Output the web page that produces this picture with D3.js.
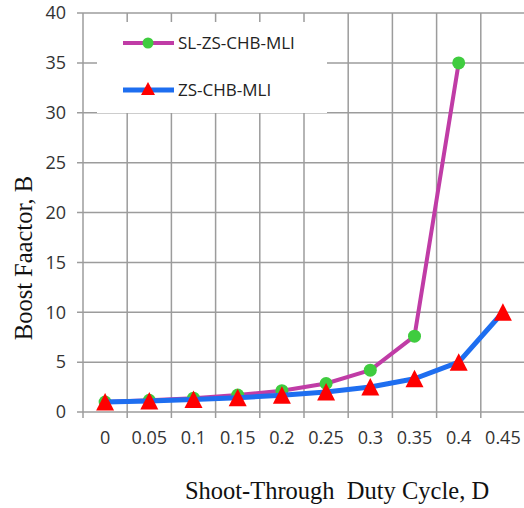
<!DOCTYPE html>
<html>
<head>
<meta charset="utf-8">
<script src="https://cdn.jsdelivr.net/npm/d3@7"></script>
<style>
    body { margin: 0; background: #fff; }
    #chart { width: 524px; height: 508px; overflow: hidden; }
    .tick-label { font-family: "Open Sans", sans-serif; font-size: 18px; fill: #333; }
    .legend-label { font-family: "Open Sans", sans-serif; font-size: 17px; fill: #222; }
    .axisLabel { font-family: "Liberation Serif", "Times New Roman", serif; font-size: 24.5px; fill: #111; }
</style>
</head>
<body>
<div id="chart"></div>
<script>

// duty cycle categories (x axis)
const dutyCycles = ["0", "0.05", "0.1", "0.15", "0.2", "0.25", "0.3", "0.35", "0.4", "0.45"];

// boost factor
const slzsValues = [1, 1.17, 1.39, 1.7, 2.14, 2.86, 4.19, 7.6, 35];
const zsValues = [1, 1.11, 1.25, 1.43, 1.67, 2, 2.5, 3.33, 5, 10];

const yTicks = [0, 5, 10, 15, 20, 25, 30, 35, 40];

const seriesNames = ["SL-ZS-CHB-MLI", "ZS-CHB-MLI"];

/*
SVG CANVAS
*/
const width = 524;
const height = 508;
const margin = {top: 13, left: 83, right: -1, bottom: 96};

const svg = d3.select("#chart")
    .append("svg")
    .attr("width", width)
    .attr("height", height);

/*
SCALES
*/
const xScale = d3.scaleBand()
    .domain(dutyCycles)
    .range([margin.left, width - margin.right])
    .padding(0);

const yScale = d3.scaleLinear()
    .domain([0, 40])
    .range([height - margin.bottom, margin.top]);

const gridColor = "#9c9c9c";

/*
GRIDLINES
*/
// horizontal gridlines + tick stubs on the left
svg.append("g")
    .selectAll("line")
    .data(yTicks)
    .enter()
    .append("line")
        .attr("x1", margin.left - 6)
        .attr("x2", width - margin.right)
        .attr("y1", d => yScale(d))
        .attr("y2", d => yScale(d))
        .attr("stroke", gridColor)
        .attr("stroke-width", 1.5);

// vertical gridlines on the category boundaries
const boundaries = dutyCycles.map(d => xScale(d)).concat([xScale.range()[1]]);

svg.append("g")
    .selectAll("line")
    .data(boundaries)
    .enter()
    .append("line")
        .attr("x1", d => d)
        .attr("x2", d => d)
        .attr("y1", yScale(40))
        .attr("y2", yScale(0) + 6)
        .attr("stroke", gridColor)
        .attr("stroke-width", 1.5);

/*
TICK LABELS
*/
svg.append("g")
    .selectAll("text")
    .data(yTicks)
    .enter()
    .append("text")
        .attr("class", "tick-label")
        .attr("x", margin.left - 17)
        .attr("y", d => yScale(d))
        .attr("dy", "0.35em")
        .attr("text-anchor", "end")
        .text(d => d);

svg.append("g")
    .selectAll("text")
    .data(dutyCycles)
    .enter()
    .append("text")
        .attr("class", "tick-label")
        .attr("x", d => xScale(d) + xScale.bandwidth() / 2)
        .attr("y", yScale(0) + 32)
        .attr("text-anchor", "middle")
        .text(d => d);

/*
LEGEND BOX (covers the grid)
*/
svg.append("rect")
    .attr("x", 97)
    .attr("y", 22)
    .attr("width", 230)
    .attr("height", 91)
    .attr("fill", "#fff");

/*
SERIES
*/
const line = d3.line()
    .x((d, i) => xScale(dutyCycles[i]) + xScale.bandwidth() / 2)
    .y(d => yScale(d))
    .curve(d3.curveLinear);

const triangle = "M0,-9L9,8.5L-9,8.5Z";
const smallTriangle = "M0,-7L7,6L-7,6Z";

const colors = {
    magenta: "#c03ca6",
    green: "#3fcc3f",
    blue: "#1e6ef0",
    red: "#ff0000"
};

// SL-ZS-CHB-MLI
svg.append("path")
    .datum(slzsValues)
    .attr("d", line)
    .attr("fill", "none")
    .attr("stroke", colors.magenta)
    .attr("stroke-width", 4)
    .attr("stroke-linejoin", "round");

svg.selectAll("circle.slzs")
    .data(slzsValues)
    .enter()
    .append("circle")
        .attr("class", "slzs")
        .attr("cx", (d, i) => xScale(dutyCycles[i]) + xScale.bandwidth() / 2)
        .attr("cy", d => yScale(d))
        .attr("r", 6.5)
        .attr("fill", colors.green);

// ZS-CHB-MLI
svg.append("path")
    .datum(zsValues)
    .attr("d", line)
    .attr("fill", "none")
    .attr("stroke", colors.blue)
    .attr("stroke-width", 5)
    .attr("stroke-linejoin", "round");

svg.selectAll("path.zs")
    .data(zsValues)
    .enter()
    .append("path")
        .attr("class", "zs")
        .attr("d", triangle)
        .attr("transform", (d, i) => `translate(${xScale(dutyCycles[i]) + xScale.bandwidth() / 2},${yScale(d)})`)
        .attr("fill", colors.red);

/*
LEGEND
*/
const legend = svg.append("g");
const legendRows = [
    {name: seriesNames[0], y: 43, stroke: colors.magenta, fill: colors.green, width: 4},
    {name: seriesNames[1], y: 90, stroke: colors.blue, fill: colors.red, width: 5}
];

legendRows.forEach(function(row, i) {
    legend.append("line")
        .attr("x1", 123)
        .attr("x2", 174)
        .attr("y1", row.y)
        .attr("y2", row.y)
        .attr("stroke", row.stroke)
        .attr("stroke-width", row.width);

    if (i === 0) {
        legend.append("circle")
            .attr("cx", 148)
            .attr("cy", row.y)
            .attr("r", 5.5)
            .attr("fill", row.fill);
    } else {
        legend.append("path")
            .attr("d", smallTriangle)
            .attr("transform", `translate(148,${row.y - 1})`)
            .attr("fill", row.fill);
    }

    legend.append("text")
        .attr("class", "legend-label")
        .attr("x", 178)
        .attr("y", row.y)
        .attr("dy", "0.35em")
        .text(row.name);
});

/*
AXIS LABELS
*/
svg.append("text")
    .attr("class", "axisLabel")
    .attr("x", 337)
    .attr("y", 499)
    .attr("text-anchor", "middle")
    .attr("xml:space", "preserve")
    .style("white-space", "pre")
    .text("Shoot-Through  Duty Cycle, D");

svg.append("text")
    .attr("class", "axisLabel")
    .attr("transform", "rotate(-90)")
    .attr("x", -258)
    .attr("y", 32)
    .attr("text-anchor", "middle")
    .text("Boost Faactor, B");

</script>
</body>
</html>
